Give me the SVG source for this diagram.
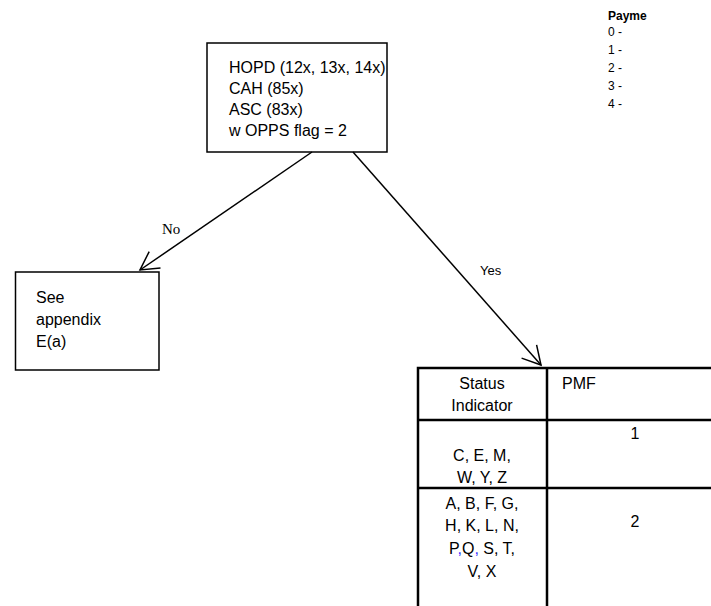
<svg xmlns="http://www.w3.org/2000/svg" width="711" height="606" viewBox="0 0 711 606">
<style>
text{font-family:"Liberation Sans",Arial,sans-serif;fill:#000}
.t16{font-size:16px}
.box{fill:#fff;stroke:#000;stroke-width:1.5}
.tbl{stroke:#000;stroke-width:2.5;fill:none}
.conn{stroke:#000;stroke-width:1.5;fill:none}
.lg{font-size:12px}
</style>
<defs>
<marker id="arr" markerUnits="userSpaceOnUse" markerWidth="24" markerHeight="24" refX="0" refY="0" viewBox="-20 -12 22 24" orient="auto" overflow="visible">
<path d="M-18,-10 L0,0 L-18,10" fill="none" stroke="#000" stroke-width="1.5"/>
</marker>
</defs>
<rect width="711" height="606" fill="#fff"/>
<g id="legend">
<text x="608" y="20" class="lg" font-weight="bold">Payme</text>
<text x="608" y="36" class="lg">0 -</text>
<text x="608" y="54" class="lg">1 -</text>
<text x="608" y="72" class="lg">2 -</text>
<text x="608" y="90" class="lg">3 -</text>
<text x="608" y="108" class="lg">4 -</text>
</g>
<g id="main">
<rect class="box" x="207" y="43" width="180" height="109"/>
<text class="t16" x="229" y="73">HOPD (12x, 13x, 14x)</text>
<text class="t16" x="229" y="94">CAH (85x)</text>
<text class="t16" x="229" y="115">ASC (83x)</text>
<text class="t16" x="229" y="136">w OPPS flag = 2</text>
</g>
<g id="appendix">
<rect class="box" x="15.5" y="272" width="143.5" height="98"/>
<text class="t16" x="36" y="303">See</text>
<text class="t16" x="36" y="325">appendix</text>
<text class="t16" x="36" y="347">E(a)</text>
</g>
<g id="table">
<path class="tbl" d="M418,607 V368 H712 M547,368 V607 M418,420 H712 M418,488 H712"/>
<g class="t16" text-anchor="middle">
<text x="482" y="389">Status</text>
<text x="482" y="411">Indicator</text>
<text x="635" y="439">1</text>
<text x="482" y="461">C, E, M,</text>
<text x="482" y="483">W, Y, Z</text>
<text x="482" y="509">A, B, F, G,</text>
<text x="482" y="531">H, K, L, N,</text>
<text x="482" y="554">P<tspan fill="#3333ff">,</tspan>Q<tspan fill="#3333ff">,</tspan> S, T,</text>
<text x="482" y="577">V, X</text>
<text x="635" y="527">2</text>
</g>
<text class="t16" x="562" y="389">PMF</text>
</g>
<g id="connectors">
<line class="conn" x1="312" y1="152" x2="140" y2="270" marker-end="url(#arr)"/>
<line class="conn" x1="353" y1="152" x2="541" y2="365" marker-end="url(#arr)"/>
<text x="162" y="234" style="font-family:'Liberation Serif',serif" font-size="15">No</text>
<text x="480" y="275" font-size="13">Yes</text>
</g>
</svg>
